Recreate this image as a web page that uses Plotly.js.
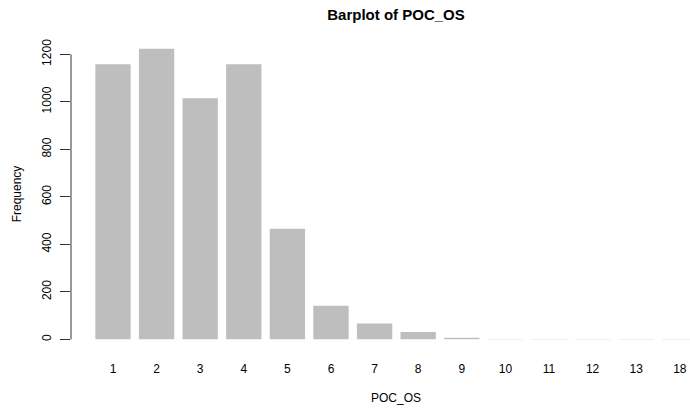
<!DOCTYPE html>
<html>
<head>
<meta charset="utf-8">
<script src="https://cdn.plot.ly/plotly-3.0.1.min.js"></script>
<style>html,body{margin:0;padding:0;background:#fff;overflow:hidden;}#chart{width:690px;height:409px;}</style>
</head>
<body>
<div id="chart"></div>
<script>
var categories = ["1","2","3","4","5","6","7","8","9","10","11","12","13","18"];
var frequencies = [1158, 1224, 1015, 1158, 466, 142, 67, 31, 7, 2, 1, 1, 1, 1];
var yTicks = [0, 200, 400, 600, 800, 1000, 1200];

var positions = categories.map(function(c, i){ return i; });

var trace = {
  type: 'bar',
  x: positions,
  y: frequencies,
  width: 0.81,
  marker: {color: '#BEBEBE', line: {width: 0}},
  hoverinfo: 'x+y'
};

var font = {family: 'Liberation Sans, Arial, sans-serif', size: 12, color: '#000'};

var layout = {
  width: 690, height: 409,
  margin: {l: 71, r: 0, t: 37, b: 58, pad: 0},
  paper_bgcolor: '#fff', plot_bgcolor: '#fff',
  showlegend: false,
  font: font,
  title: {text: '<b>Barplot of POC_OS</b>', x: 396/690, xanchor: 'center', y: 1 - 15/409, yanchor: 'middle',
          font: {family: 'Liberation Sans, Arial, sans-serif', size: 15, color: '#000'}},
  xaxis: {
    range: [-0.963, 13.234],
    tickmode: 'array', tickvals: positions, ticktext: categories,
    showgrid: false, zeroline: false, showline: false, ticks: '',
    ticklabelstandoff: 9,
    tickfont: font,
    fixedrange: true
  },
  yaxis: {
    range: [-49, 1273],
    tickmode: 'array', tickvals: yTicks, ticktext: yTicks.map(String),
    tickangle: -90,
    showgrid: false, zeroline: false, showline: false,
    ticks: 'outside', ticklen: 10, tickwidth: 1, tickcolor: '#333',
    ticklabelstandoff: 4,
    tickfont: font,
    title: {text: 'Frequency', font: font, standoff: 16},
    automargin: false,
    fixedrange: true
  },
  shapes: [{type: 'line', xref: 'paper', yref: 'y', x0: 0, x1: 0, y0: yTicks[0], y1: yTicks[yTicks.length-1],
            line: {color: '#333', width: 1}}],
  annotations: [{text: 'POC_OS', xref: 'paper', yref: 'paper', x: (396-71)/(690-71), y: -(398-351)/(409-58-37),
                 xanchor: 'center', yanchor: 'middle', showarrow: false, font: font}]
};

Plotly.newPlot('chart', [trace], layout, {displayModeBar: false, staticPlot: true});
</script>
</body>
</html>
